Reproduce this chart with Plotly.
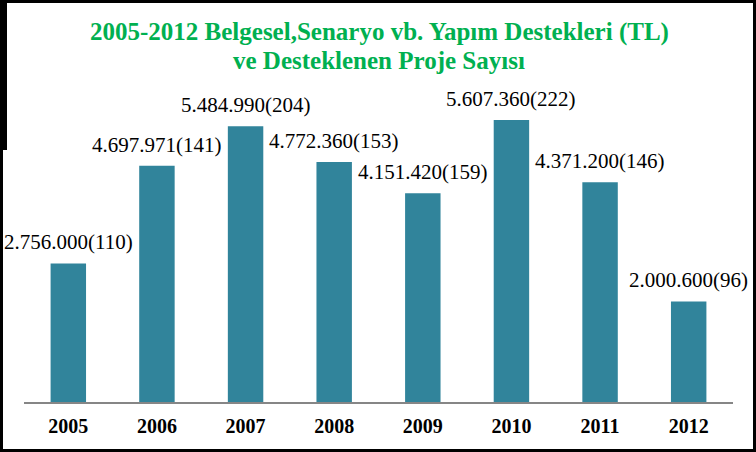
import plotly.graph_objects as go

years = ["2005", "2006", "2007", "2008", "2009", "2010", "2011", "2012"]
amounts = [2756000, 4697971, 5484990, 4772360, 4151420, 5607360, 4371200, 2000600]
projects = [110, 141, 204, 153, 159, 222, 146, 96]

title_line1 = "2005-2012 Belgesel,Senaryo vb. Yapım Destekleri (TL)"
title_line2 = "ve Desteklenen Proje Sayısı"


def fmt(v):
    return f"{v:,}".replace(",", ".")


labels = [f"{fmt(a)}({p})" for a, p in zip(amounts, projects)]

W, H = 756, 452
ML, MR, MT, MB = 24, 23, 100, 50
PW, PH = W - ML - MR, H - MT - MB
SERIF = "Liberation Serif, Times New Roman, serif"


def px(x):
    return (x - ML) / PW


def py(y):
    return (H - MB - y) / PH


fig = go.Figure()
fig.add_trace(go.Bar(
    x=years, y=amounts,
    marker=dict(color="#31849B", line=dict(width=0)),
    hoverinfo="skip",
))

for i, (a, lab) in enumerate(zip(amounts, labels)):
    fig.add_annotation(
        x=i, y=a, text=lab, showarrow=False,
        yanchor="bottom", xanchor="center", yshift=7,
        font=dict(family=SERIF, size=21, color="black"),
    )

for line, base in [(title_line1, 40), (title_line2, 68)]:
    fig.add_annotation(
        xref="paper", yref="paper", x=px(379), y=py(base - 8), xanchor="center", yanchor="middle",
        text=f"<b>{line}</b>", showarrow=False,
        font=dict(family=SERIF, size=25, color="#00B050"),
    )

# outer black frame
for (x0, y0, x1, y1) in [(0, 0, W, 3), (0, H - 3, W, H), (W - 3, 0, W, H), (0, 0, 3, H), (0, 0, 7, 150)]:
    fig.add_shape(type="rect", xref="paper", yref="paper",
                  x0=px(x0), x1=px(x1), y0=py(y1), y1=py(y0),
                  fillcolor="black", line=dict(width=0), layer="above")

fig.update_layout(
    width=W, height=H,
    margin=dict(l=ML, r=MR, t=MT, b=MB, autoexpand=False),
    paper_bgcolor="white", plot_bgcolor="white",
    bargap=0.6, showlegend=False,
    xaxis=dict(
        type="category", range=[-0.5, len(years) - 0.5], showgrid=False, zeroline=False,
        showline=True, linecolor="#868686", linewidth=1.5,
        ticks="", ticklabelstandoff=5,
        tickfont=dict(family=SERIF, size=20, color="black", weight="bold"),
    ),
    yaxis=dict(
        range=[0, PH * amounts[5] / 282], visible=False, showgrid=False, zeroline=False,
    ),
)

fig.write_html("out.html", config={"displayModeBar": False},
               post_script="document.body.style.margin='0';document.body.style.overflow='hidden';")
